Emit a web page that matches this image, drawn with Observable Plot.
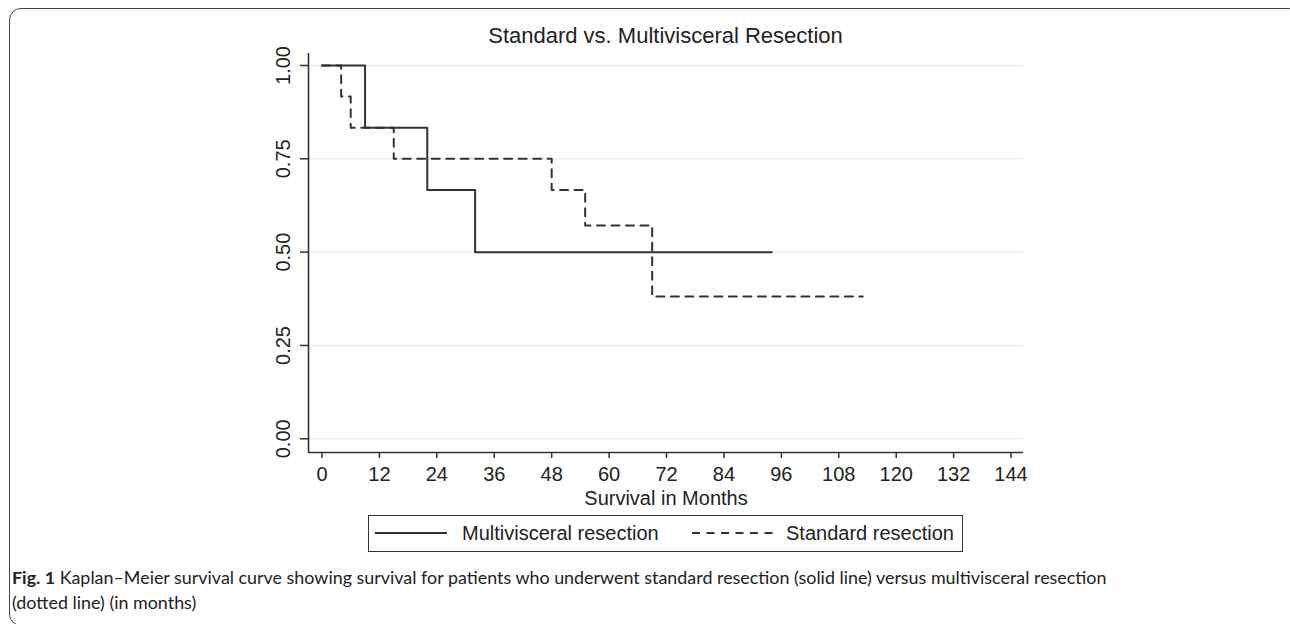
<!DOCTYPE html>
<html>
<head>
<meta charset="utf-8">
<script src="https://cdn.jsdelivr.net/npm/d3@7"></script>
<script src="https://cdn.jsdelivr.net/npm/@observablehq/plot@0.6"></script>
<style>
  body { margin: 0; background: #fff; }
  #wrap { position: relative; width: 1290px; height: 624px; overflow: hidden; font-family: "Liberation Sans", Arial, sans-serif; color: #222; }
  #border { position: absolute; left: 9px; top: 8px; width: 1292px; height: 618px; border: 1.5px solid #444; border-radius: 12px; box-sizing: border-box; }
  #title { position: absolute; left: 0; top: 25px; width: 1331px; text-align: center; font-size: 22px; line-height: 22px; color: #222; }
  #chart { position: absolute; left: 0; top: 0; }
  #legend { position: absolute; left: 368px; top: 515px; width: 595px; height: 37px; border: 1.5px solid #333; box-sizing: border-box; background: #fff; }
  #legend .lt { position: absolute; top: 7px; font-size: 20px; line-height: 20px; color: #222; white-space: nowrap; }
  #legend svg { position: absolute; left: 0; top: 0; }
  #caption { position: absolute; left: 12px; top: 565px; width: 1270px; font-family: Lato, "Open Sans", sans-serif; font-size: 17.9px; line-height: 25px; color: #222; white-space: nowrap; }
  #caption b { font-weight: 700; }
</style>
</head>
<body>
<div id="wrap">
  <div id="border"></div>
  <div id="chart"></div>
  <div id="title"></div>
  <div id="legend"></div>
  <div id="caption"></div>
</div>
<script>
// ---- data ----
const titleText = "Standard vs. Multivisceral Resection";
const xLabel = "Survival in Months";
const xTicks = [0, 12, 24, 36, 48, 60, 72, 84, 96, 108, 120, 132, 144];
const yTicks = [0, 0.25, 0.5, 0.75, 1];
const seriesNames = ["Multivisceral resection", "Standard resection"];
const multiTime = [0, 9, 22, 32, 94];
const multiSurv = [1, 0.8333, 0.6667, 0.5, 0.5];
const stdTime = [0, 4, 6, 15, 48, 55, 69, 113];
const stdSurv = [1, 0.9167, 0.8333, 0.75, 0.6667, 0.5714, 0.381, 0.381];
const captionBold = "Fig. 1";
const captionLine1 = " Kaplan–Meier survival curve showing survival for patients who underwent standard resection (solid line) versus multivisceral resection";
const captionLine2 = "(dotted line) (in months)";

// ---- layout ----
const xDomain = [-2.82, 146.6];
const yDomain = [-0.0367, 1.0321];
const ink = "#333";
const dash = "8,6.5";

const multi = multiTime.map((t, i) => ({t, s: multiSurv[i]}));
const std = stdTime.map((t, i) => ({t, s: stdSurv[i]}));

document.getElementById("title").textContent = titleText;

const chart = Plot.plot({
  width: 1290,
  height: 512,
  marginLeft: 308,
  marginRight: 267,
  marginTop: 53,
  marginBottom: 60,
  style: {fontFamily: '"Liberation Sans", Arial, sans-serif', fontSize: "20px", color: ink, background: "transparent", overflow: "visible"},
  x: {domain: xDomain},
  y: {domain: yDomain},
  marks: [
    Plot.ruleY(yTicks, {stroke: "#ececec", strokeWidth: 1.5}),
    Plot.ruleX([xDomain[0]], {stroke: ink, strokeWidth: 1.6}),
    Plot.ruleY([yDomain[0]], {stroke: ink, strokeWidth: 1.6}),
    Plot.axisX(xTicks, {tickSize: 6, tickPadding: 8, label: null, fill: "#222", strokeWidth: 1.5}),
    Plot.axisY(yTicks, {tickSize: 8, tickPadding: 11, tickRotate: -90, tickFormat: d3.format(".2f"), label: null, fill: "#222", strokeWidth: 1.5}),
    Plot.line(std, {x: "t", y: "s", curve: "step-after", stroke: ink, strokeWidth: 2, strokeDasharray: dash}),
    Plot.line(multi, {x: "t", y: "s", curve: "step-after", stroke: ink, strokeWidth: 2}),
    Plot.text([xLabel], {frameAnchor: "bottom", lineAnchor: "bottom", dy: 52, fill: "#222"})
  ]
});
document.getElementById("chart").appendChild(chart);

// ---- legend ----
const legend = document.getElementById("legend");
legend.innerHTML = `
  <svg width="592" height="34">
    <line x1="6" x2="78" y1="17" y2="17" stroke="${ink}" stroke-width="2"></line>
    <line x1="323" x2="404" y1="17" y2="17" stroke="${ink}" stroke-width="2" stroke-dasharray="${dash}"></line>
  </svg>
  <div class="lt" style="left:93px">${seriesNames[0]}</div>
  <div class="lt" style="left:417px">${seriesNames[1]}</div>`;

// ---- caption ----
document.getElementById("caption").innerHTML = `<b>${captionBold}</b>${captionLine1}<br>${captionLine2}`;
</script>
</body>
</html>
